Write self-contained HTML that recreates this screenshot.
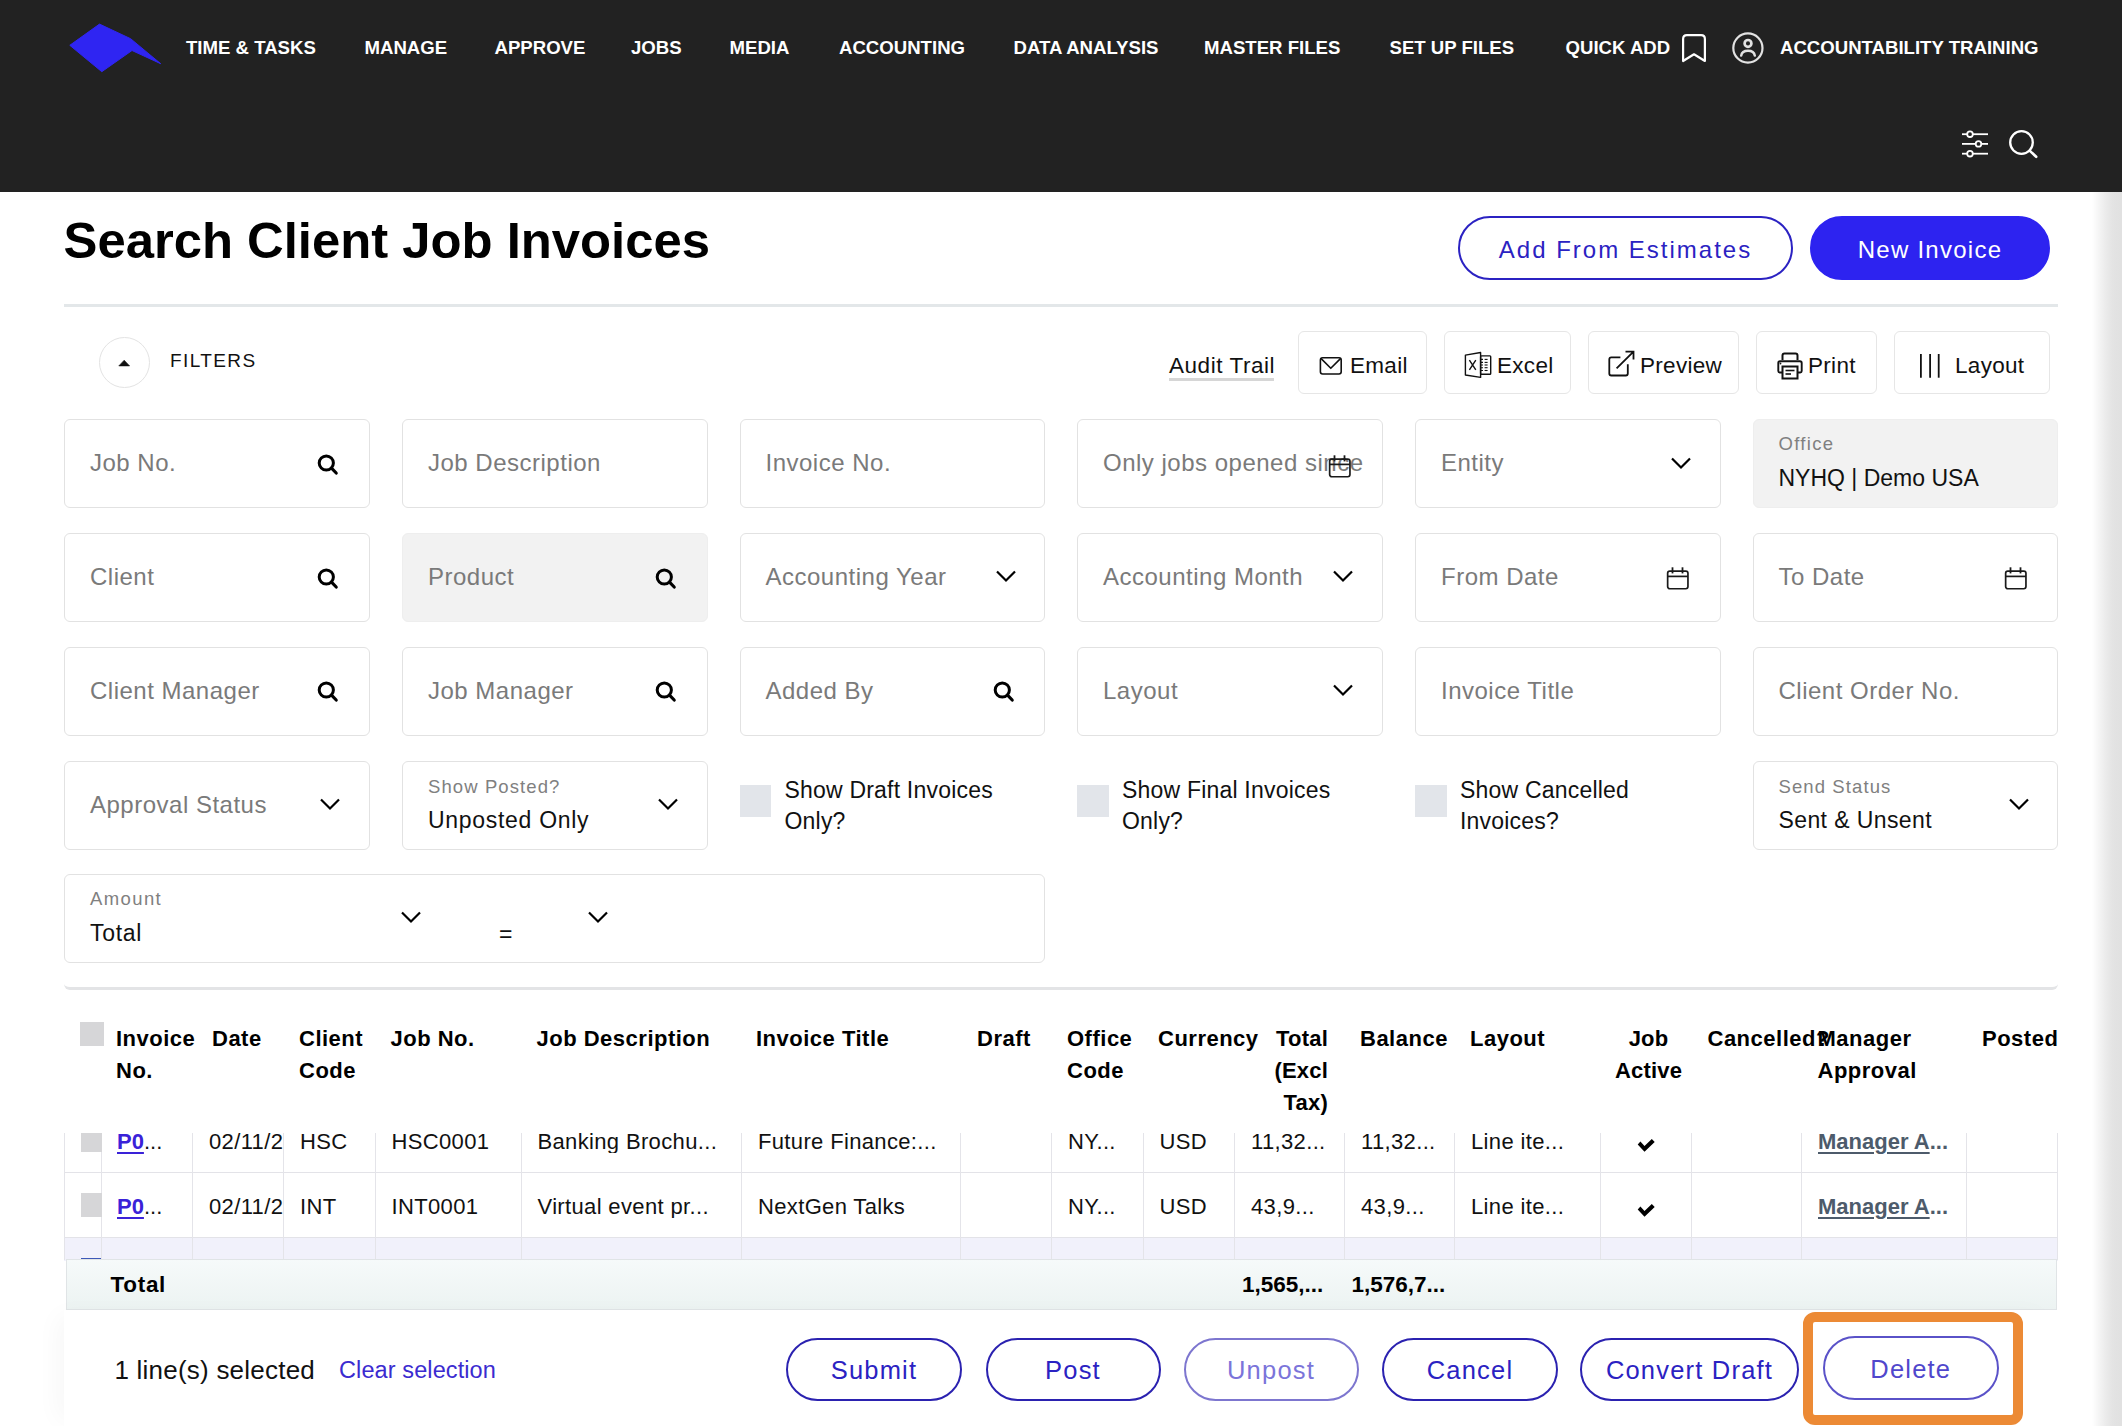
<!DOCTYPE html>
<html><head><meta charset="utf-8"><title>Search Client Job Invoices</title>
<style>
html,body{margin:0;padding:0;}
body{width:2122px;height:1426px;overflow:hidden;position:relative;background:#fff;font-family:"Liberation Sans", sans-serif;}
.a{position:absolute;}
.t{position:absolute;white-space:nowrap;}
.clip{overflow:hidden;}
.btn{position:absolute;box-sizing:border-box;border-radius:40px;padding-top:3px;display:flex;align-items:center;justify-content:center;font-family:"Liberation Sans", sans-serif;white-space:nowrap;}
</style></head><body>
<div class="a" style="left:0px;top:0px;width:2122px;height:192px;background:#222222;"></div>
<svg class="a" style="left:0;top:0" width="200" height="100" viewBox="0 0 200 100"><polygon points="69.8,45.3 99.5,24.1 130.6,38.7 160.7,63.7 132,50.5 101.8,71.7" fill="#2f25f2" stroke="#2f25f2" stroke-width="1" stroke-linejoin="round"/></svg>
<div class="t " style="left:186.0px;top:39.2px;font-size:18.6px;line-height:18.6px;font-weight:700;color:#ffffff;">TIME &amp; TASKS</div>
<div class="t " style="left:364.5px;top:39.2px;font-size:18.6px;line-height:18.6px;font-weight:700;color:#ffffff;">MANAGE</div>
<div class="t " style="left:494.5px;top:39.2px;font-size:18.6px;line-height:18.6px;font-weight:700;color:#ffffff;">APPROVE</div>
<div class="t " style="left:631.0px;top:39.2px;font-size:18.6px;line-height:18.6px;font-weight:700;color:#ffffff;">JOBS</div>
<div class="t " style="left:729.5px;top:39.2px;font-size:18.6px;line-height:18.6px;font-weight:700;color:#ffffff;">MEDIA</div>
<div class="t " style="left:839.0px;top:39.2px;font-size:18.6px;line-height:18.6px;font-weight:700;color:#ffffff;">ACCOUNTING</div>
<div class="t " style="left:1013.5px;top:39.2px;font-size:18.6px;line-height:18.6px;font-weight:700;color:#ffffff;">DATA ANALYSIS</div>
<div class="t " style="left:1204.0px;top:39.2px;font-size:18.6px;line-height:18.6px;font-weight:700;color:#ffffff;">MASTER FILES</div>
<div class="t " style="left:1389.5px;top:39.2px;font-size:18.6px;line-height:18.6px;font-weight:700;color:#ffffff;">SET UP FILES</div>
<div class="t " style="left:1565.5px;top:39.2px;font-size:18.6px;line-height:18.6px;font-weight:700;color:#ffffff;">QUICK ADD</div>
<div class="t " style="left:1780.0px;top:39.2px;font-size:18.6px;line-height:18.6px;font-weight:700;color:#ffffff;">ACCOUNTABILITY TRAINING</div>
<svg class="a" style="left:1678px;top:31px" width="32" height="34" viewBox="0 0 32 34"><path d="M5.1 30 L5.1 8 Q5.1 4.2 8.9 4.2 L23.1 4.2 Q26.9 4.2 26.9 8 L26.9 30 L16 23.3 Z" fill="none" stroke="#fff" stroke-width="2.2" stroke-linejoin="round"/></svg>
<svg class="a" style="left:1730px;top:30px" width="36" height="36" viewBox="0 0 36 36"><circle cx="17.9" cy="18" r="14.6" fill="none" stroke="#e2e2e2" stroke-width="2.2"/><circle cx="18" cy="13.4" r="3.4" fill="none" stroke="#e2e2e2" stroke-width="2.7"/><path d="M11.2 25.6 Q12 20.8 18 20.8 Q24 20.8 24.8 25.6" fill="none" stroke="#e2e2e2" stroke-width="2.5" stroke-linecap="round"/></svg>
<svg class="a" style="left:1958px;top:128px" width="34" height="32" viewBox="0 0 34 32"><g stroke="#fff" stroke-width="1.8" fill="none"><line x1="4" y1="6.2" x2="30" y2="6.2"/><line x1="4" y1="15.9" x2="30" y2="15.9"/><line x1="4" y1="25.7" x2="30" y2="25.7"/><circle cx="12" cy="6.2" r="2.8" fill="#222"/><circle cx="20.5" cy="15.9" r="2.8" fill="#222"/><circle cx="12" cy="25.7" r="2.8" fill="#222"/></g></svg>
<svg class="a" style="left:2004px;top:126px" width="36" height="36" viewBox="0 0 36 36"><circle cx="17.5" cy="16.5" r="11.3" fill="none" stroke="#fff" stroke-width="2.3"/><line x1="25.6" y1="24.6" x2="32.2" y2="30.8" stroke="#fff" stroke-width="2.6" stroke-linecap="round"/></svg>
<div class="a" style="left:2092px;top:192px;width:30px;height:1234px;background:linear-gradient(to right, #ffffff 0px, #f6f6f6 6px, #ececec 13px, #e4e4e4 20px, #e2e2e2 24px, #e1e1e1 30px);"></div>
<div class="t " style="left:63.5px;top:215.5px;font-size:50.8px;line-height:50.8px;font-weight:700;color:#000;">Search Client Job Invoices</div>
<div class="btn" style="left:1458px;top:216px;width:335px;height:64px;border:2px solid #2b22c2;color:#2b22c2;font-size:24px;letter-spacing:2.0px;">Add From Estimates</div>
<div class="btn" style="left:1810px;top:216px;width:240px;height:64px;border:2px solid #2d23f0;background:#2d23f0;color:#fff;font-size:24px;letter-spacing:1.25px;">New Invoice</div>
<div class="a" style="left:64px;top:304px;width:1994px;height:3px;background:#e3e7e9;"></div>
<div class="a" style="left:99px;top:337px;width:51px;height:51px;border:1px solid #e3e3e3;border-radius:50%;box-sizing:border-box;"></div>
<svg class="a" style="left:117px;top:358px" width="14" height="10" viewBox="0 0 14 10"><polygon points="1.8,7.9 7.2,2.2 12.6,7.9" fill="#111" stroke="#111" stroke-width="0.6" stroke-linejoin="round"/></svg>
<div class="t " style="left:170px;top:351.2px;font-size:19px;line-height:19px;color:#111;letter-spacing:1.4px;">FILTERS</div>
<div class="t " style="left:1169px;top:354.9px;font-size:22.5px;line-height:22.5px;color:#111;letter-spacing:0.55px;">Audit Trail</div>
<div class="a" style="left:1169px;top:378px;width:105px;height:3px;background:#d6d6d6;"></div>
<div class="a" style="left:1298px;top:331px;width:129px;height:63px;border:1px solid #e6e6e6;border-radius:6px;box-sizing:border-box;background:#fff;"></div>
<svg class="a" style="left:1316px;top:354px" width="30" height="24" viewBox="0 0 30 24"><rect x="4.4" y="3.8" width="20.8" height="16.2" rx="2.2" fill="none" stroke="#111" stroke-width="1.6"/><path d="M4.9 4.4 L14.8 14.3 L24.7 4.4" fill="none" stroke="#111" stroke-width="1.6" stroke-linejoin="round"/></svg>
<div class="t " style="left:1350px;top:354.9px;font-size:22.5px;line-height:22.5px;color:#111;letter-spacing:0.3px;">Email</div>
<div class="a" style="left:1444px;top:331px;width:127px;height:63px;border:1px solid #e6e6e6;border-radius:6px;box-sizing:border-box;background:#fff;"></div>
<svg class="a" style="left:1455px;top:340px" width="45" height="45" viewBox="0 0 45 45"><polygon points="10.4,15.1 25.6,12.5 25.6,37.4 10.4,35" fill="none" stroke="#111" stroke-width="1.4" stroke-linejoin="round"/><rect x="25.6" y="15.9" width="10.1" height="18.3" rx="0.8" fill="none" stroke="#111" stroke-width="1.4"/><path d="M14.4 20.2 L20.8 29.8 M20.8 20.2 L14.4 29.8" stroke="#111" stroke-width="1.4"/><g stroke="#111" stroke-width="1.1"><line x1="26" y1="19.4" x2="28" y2="19.4"/><line x1="29.6" y1="19.4" x2="32.6" y2="19.4"/><line x1="26" y1="22.4" x2="28" y2="22.4"/><line x1="29.6" y1="22.4" x2="32.6" y2="22.4"/><line x1="26" y1="25" x2="28" y2="25"/><line x1="29.6" y1="25" x2="32.6" y2="25"/><line x1="26" y1="27.7" x2="28" y2="27.7"/><line x1="29.6" y1="27.7" x2="32.6" y2="27.7"/><line x1="26" y1="30.5" x2="28" y2="30.5"/><line x1="29.6" y1="30.5" x2="32.6" y2="30.5"/></g></svg>
<div class="t " style="left:1497px;top:354.9px;font-size:22.5px;line-height:22.5px;color:#111;letter-spacing:0.3px;">Excel</div>
<div class="a" style="left:1588px;top:331px;width:151px;height:63px;border:1px solid #e6e6e6;border-radius:6px;box-sizing:border-box;background:#fff;"></div>
<svg class="a" style="left:1598px;top:340px" width="50" height="45" viewBox="0 0 50 45"><path d="M22.4 17.3 L13.3 17.3 Q11.3 17.3 11.3 19.3 L11.3 33.5 Q11.3 35.5 13.3 35.5 L27.8 35.5 Q29.8 35.5 29.8 33.5 L29.8 24.3" fill="none" stroke="#111" stroke-width="1.8"/><path d="M18.6 28.3 L35 12.1 M27.5 11.7 L35.5 11.7 L35.5 19.6" fill="none" stroke="#111" stroke-width="1.8"/></svg>
<div class="t " style="left:1640px;top:354.9px;font-size:22.5px;line-height:22.5px;color:#111;letter-spacing:0.3px;">Preview</div>
<div class="a" style="left:1756px;top:331px;width:121px;height:63px;border:1px solid #e6e6e6;border-radius:6px;box-sizing:border-box;background:#fff;"></div>
<svg class="a" style="left:1775px;top:351px" width="30" height="30" viewBox="0 0 30 30"><path d="M7.5 9 L7.5 4.5 Q7.5 2.5 9.5 2.5 L20.5 2.5 Q22.5 2.5 22.5 4.5 L22.5 9" fill="none" stroke="#111" stroke-width="2"/><path d="M7 21.5 L4.8 21.5 Q3.3 21.5 3.3 20 L3.3 12 Q3.3 10.2 5.1 10.2 L24.9 10.2 Q26.7 10.2 26.7 12 L26.7 20 Q26.7 21.5 25.2 21.5 L23 21.5" fill="none" stroke="#111" stroke-width="1.9"/><rect x="7.5" y="15.5" width="15" height="12" fill="none" stroke="#111" stroke-width="2"/><line x1="10.5" y1="19.5" x2="19.5" y2="19.5" stroke="#111" stroke-width="1.6"/><line x1="10.5" y1="23" x2="16" y2="23" stroke="#111" stroke-width="1.6"/><circle cx="5.5" cy="12.5" r="0.9" fill="#111"/></svg>
<div class="t " style="left:1808px;top:354.9px;font-size:22.5px;line-height:22.5px;color:#111;letter-spacing:0.3px;">Print</div>
<div class="a" style="left:1894px;top:331px;width:156px;height:63px;border:1px solid #e6e6e6;border-radius:6px;box-sizing:border-box;background:#fff;"></div>
<svg class="a" style="left:1916px;top:352px" width="24" height="28" viewBox="0 0 24 28"><g stroke="#111" stroke-width="1.8"><line x1="4.9" y1="2" x2="4.9" y2="25.7"/><line x1="14.1" y1="2" x2="14.1" y2="25.7"/><line x1="22.7" y1="2" x2="22.7" y2="25.7"/></g></svg>
<div class="t " style="left:1955px;top:354.9px;font-size:22.5px;line-height:22.5px;color:#111;letter-spacing:0.3px;">Layout</div>
<div class="a" style="left:64px;top:419px;width:305.5px;height:89px;border:1px solid #e2e2e2;border-radius:6px;box-sizing:border-box;background:#fff;"></div>
<div class="t " style="left:90px;top:451.2px;font-size:24px;line-height:24px;color:#7a7a7a;letter-spacing:0.5px;">Job No.</div>
<svg class="a" style="left:317px;top:453.5px" width="22" height="22" viewBox="0 0 22 22"><circle cx="9.3" cy="9" r="7.1" fill="none" stroke="#000" stroke-width="3"/><line x1="14.5" y1="14.2" x2="19.2" y2="19" stroke="#000" stroke-width="3.2" stroke-linecap="round"/></svg>
<div class="a" style="left:402px;top:419px;width:305.5px;height:89px;border:1px solid #e2e2e2;border-radius:6px;box-sizing:border-box;background:#fff;"></div>
<div class="t " style="left:428px;top:451.2px;font-size:24px;line-height:24px;color:#7a7a7a;letter-spacing:0.5px;">Job Description</div>
<div class="a" style="left:739.5px;top:419px;width:305.5px;height:89px;border:1px solid #e2e2e2;border-radius:6px;box-sizing:border-box;background:#fff;"></div>
<div class="t " style="left:765.5px;top:451.2px;font-size:24px;line-height:24px;color:#7a7a7a;letter-spacing:0.5px;">Invoice No.</div>
<div class="a" style="left:1077px;top:419px;width:305.5px;height:89px;border:1px solid #e2e2e2;border-radius:6px;box-sizing:border-box;background:#fff;"></div>
<div class="t " style="left:1103px;top:451.2px;font-size:24px;line-height:24px;color:#7a7a7a;letter-spacing:0.5px;">Only jobs opened since</div>
<svg class="a" style="left:1327px;top:454px" width="26" height="26" viewBox="0 0 26 26"><rect x="2.65" y="5.15" width="20.3" height="17.6" rx="2.2" fill="none" stroke="#1a1a1a" stroke-width="1.7"/><line x1="2.65" y1="10.4" x2="22.95" y2="10.4" stroke="#1a1a1a" stroke-width="1.7"/><line x1="7.5" y1="1.3" x2="7.5" y2="7.4" stroke="#1a1a1a" stroke-width="1.8"/><line x1="17.5" y1="1.3" x2="17.5" y2="7.4" stroke="#1a1a1a" stroke-width="1.8"/></svg>
<div class="a" style="left:1415px;top:419px;width:305.5px;height:89px;border:1px solid #e2e2e2;border-radius:6px;box-sizing:border-box;background:#fff;"></div>
<div class="t " style="left:1441px;top:451.2px;font-size:24px;line-height:24px;color:#7a7a7a;letter-spacing:0.5px;">Entity</div>
<svg class="a" style="left:1669px;top:456px" width="24" height="14" viewBox="0 0 24 14"><path d="M3 2.5 L12 11.5 L21 2.5" fill="none" stroke="#000" stroke-width="2.2"/></svg>
<div class="a" style="left:1752.5px;top:419px;width:305.5px;height:89px;border:1px solid #eeeeee;border-radius:6px;box-sizing:border-box;background:#f2f2f2;"></div>
<div class="t " style="left:1778.5px;top:435.3px;font-size:18.5px;line-height:18.5px;color:#808080;letter-spacing:1.3px;">Office</div>
<div class="t " style="left:1778.5px;top:467.0px;font-size:23px;line-height:23px;color:#111;letter-spacing:0px;">NYHQ | Demo USA</div>
<div class="a" style="left:64px;top:533px;width:305.5px;height:89px;border:1px solid #e2e2e2;border-radius:6px;box-sizing:border-box;background:#fff;"></div>
<div class="t " style="left:90px;top:565.2px;font-size:24px;line-height:24px;color:#7a7a7a;letter-spacing:0.5px;">Client</div>
<svg class="a" style="left:317px;top:567.5px" width="22" height="22" viewBox="0 0 22 22"><circle cx="9.3" cy="9" r="7.1" fill="none" stroke="#000" stroke-width="3"/><line x1="14.5" y1="14.2" x2="19.2" y2="19" stroke="#000" stroke-width="3.2" stroke-linecap="round"/></svg>
<div class="a" style="left:402px;top:533px;width:305.5px;height:89px;border:1px solid #eeeeee;border-radius:6px;box-sizing:border-box;background:#f2f2f2;"></div>
<div class="t " style="left:428px;top:565.2px;font-size:24px;line-height:24px;color:#7a7a7a;letter-spacing:0.5px;">Product</div>
<svg class="a" style="left:655px;top:567.5px" width="22" height="22" viewBox="0 0 22 22"><circle cx="9.3" cy="9" r="7.1" fill="none" stroke="#000" stroke-width="3"/><line x1="14.5" y1="14.2" x2="19.2" y2="19" stroke="#000" stroke-width="3.2" stroke-linecap="round"/></svg>
<div class="a" style="left:739.5px;top:533px;width:305.5px;height:89px;border:1px solid #e2e2e2;border-radius:6px;box-sizing:border-box;background:#fff;"></div>
<div class="t " style="left:765.5px;top:565.2px;font-size:24px;line-height:24px;color:#7a7a7a;letter-spacing:0.5px;">Accounting Year</div>
<svg class="a" style="left:993.5px;top:569px" width="24" height="14" viewBox="0 0 24 14"><path d="M3 2.5 L12 11.5 L21 2.5" fill="none" stroke="#000" stroke-width="2.2"/></svg>
<div class="a" style="left:1077px;top:533px;width:305.5px;height:89px;border:1px solid #e2e2e2;border-radius:6px;box-sizing:border-box;background:#fff;"></div>
<div class="t " style="left:1103px;top:565.2px;font-size:24px;line-height:24px;color:#7a7a7a;letter-spacing:0.5px;">Accounting Month</div>
<svg class="a" style="left:1331px;top:569px" width="24" height="14" viewBox="0 0 24 14"><path d="M3 2.5 L12 11.5 L21 2.5" fill="none" stroke="#000" stroke-width="2.2"/></svg>
<div class="a" style="left:1415px;top:533px;width:305.5px;height:89px;border:1px solid #e2e2e2;border-radius:6px;box-sizing:border-box;background:#fff;"></div>
<div class="t " style="left:1441px;top:565.2px;font-size:24px;line-height:24px;color:#7a7a7a;letter-spacing:0.5px;">From Date</div>
<svg class="a" style="left:1665px;top:566px" width="26" height="26" viewBox="0 0 26 26"><rect x="2.65" y="5.15" width="20.3" height="17.6" rx="2.2" fill="none" stroke="#1a1a1a" stroke-width="1.7"/><line x1="2.65" y1="10.4" x2="22.95" y2="10.4" stroke="#1a1a1a" stroke-width="1.7"/><line x1="7.5" y1="1.3" x2="7.5" y2="7.4" stroke="#1a1a1a" stroke-width="1.8"/><line x1="17.5" y1="1.3" x2="17.5" y2="7.4" stroke="#1a1a1a" stroke-width="1.8"/></svg>
<div class="a" style="left:1752.5px;top:533px;width:305.5px;height:89px;border:1px solid #e2e2e2;border-radius:6px;box-sizing:border-box;background:#fff;"></div>
<div class="t " style="left:1778.5px;top:565.2px;font-size:24px;line-height:24px;color:#7a7a7a;letter-spacing:0.5px;">To Date</div>
<svg class="a" style="left:2002.5px;top:566px" width="26" height="26" viewBox="0 0 26 26"><rect x="2.65" y="5.15" width="20.3" height="17.6" rx="2.2" fill="none" stroke="#1a1a1a" stroke-width="1.7"/><line x1="2.65" y1="10.4" x2="22.95" y2="10.4" stroke="#1a1a1a" stroke-width="1.7"/><line x1="7.5" y1="1.3" x2="7.5" y2="7.4" stroke="#1a1a1a" stroke-width="1.8"/><line x1="17.5" y1="1.3" x2="17.5" y2="7.4" stroke="#1a1a1a" stroke-width="1.8"/></svg>
<div class="a" style="left:64px;top:646.5px;width:305.5px;height:89px;border:1px solid #e2e2e2;border-radius:6px;box-sizing:border-box;background:#fff;"></div>
<div class="t " style="left:90px;top:678.7px;font-size:24px;line-height:24px;color:#7a7a7a;letter-spacing:0.5px;">Client Manager</div>
<svg class="a" style="left:317px;top:681.0px" width="22" height="22" viewBox="0 0 22 22"><circle cx="9.3" cy="9" r="7.1" fill="none" stroke="#000" stroke-width="3"/><line x1="14.5" y1="14.2" x2="19.2" y2="19" stroke="#000" stroke-width="3.2" stroke-linecap="round"/></svg>
<div class="a" style="left:402px;top:646.5px;width:305.5px;height:89px;border:1px solid #e2e2e2;border-radius:6px;box-sizing:border-box;background:#fff;"></div>
<div class="t " style="left:428px;top:678.7px;font-size:24px;line-height:24px;color:#7a7a7a;letter-spacing:0.5px;">Job Manager</div>
<svg class="a" style="left:655px;top:681.0px" width="22" height="22" viewBox="0 0 22 22"><circle cx="9.3" cy="9" r="7.1" fill="none" stroke="#000" stroke-width="3"/><line x1="14.5" y1="14.2" x2="19.2" y2="19" stroke="#000" stroke-width="3.2" stroke-linecap="round"/></svg>
<div class="a" style="left:739.5px;top:646.5px;width:305.5px;height:89px;border:1px solid #e2e2e2;border-radius:6px;box-sizing:border-box;background:#fff;"></div>
<div class="t " style="left:765.5px;top:678.7px;font-size:24px;line-height:24px;color:#7a7a7a;letter-spacing:0.5px;">Added By</div>
<svg class="a" style="left:992.5px;top:681.0px" width="22" height="22" viewBox="0 0 22 22"><circle cx="9.3" cy="9" r="7.1" fill="none" stroke="#000" stroke-width="3"/><line x1="14.5" y1="14.2" x2="19.2" y2="19" stroke="#000" stroke-width="3.2" stroke-linecap="round"/></svg>
<div class="a" style="left:1077px;top:646.5px;width:305.5px;height:89px;border:1px solid #e2e2e2;border-radius:6px;box-sizing:border-box;background:#fff;"></div>
<div class="t " style="left:1103px;top:678.7px;font-size:24px;line-height:24px;color:#7a7a7a;letter-spacing:0.5px;">Layout</div>
<svg class="a" style="left:1331px;top:682.5px" width="24" height="14" viewBox="0 0 24 14"><path d="M3 2.5 L12 11.5 L21 2.5" fill="none" stroke="#000" stroke-width="2.2"/></svg>
<div class="a" style="left:1415px;top:646.5px;width:305.5px;height:89px;border:1px solid #e2e2e2;border-radius:6px;box-sizing:border-box;background:#fff;"></div>
<div class="t " style="left:1441px;top:678.7px;font-size:24px;line-height:24px;color:#7a7a7a;letter-spacing:0.5px;">Invoice Title</div>
<div class="a" style="left:1752.5px;top:646.5px;width:305.5px;height:89px;border:1px solid #e2e2e2;border-radius:6px;box-sizing:border-box;background:#fff;"></div>
<div class="t " style="left:1778.5px;top:678.7px;font-size:24px;line-height:24px;color:#7a7a7a;letter-spacing:0.5px;">Client Order No.</div>
<div class="a" style="left:64px;top:760.5px;width:305.5px;height:89px;border:1px solid #e2e2e2;border-radius:6px;box-sizing:border-box;background:#fff;"></div>
<div class="t " style="left:90px;top:792.7px;font-size:24px;line-height:24px;color:#7a7a7a;letter-spacing:0.5px;">Approval Status</div>
<svg class="a" style="left:318px;top:796.5px" width="24" height="14" viewBox="0 0 24 14"><path d="M3 2.5 L12 11.5 L21 2.5" fill="none" stroke="#000" stroke-width="2.2"/></svg>
<div class="a" style="left:402px;top:760.5px;width:305.5px;height:89px;border:1px solid #e2e2e2;border-radius:6px;box-sizing:border-box;background:#fff;"></div>
<div class="t " style="left:428px;top:777.8px;font-size:18.5px;line-height:18.5px;color:#808080;letter-spacing:1.1px;">Show Posted?</div>
<div class="t " style="left:428px;top:808.5px;font-size:23px;line-height:23px;color:#111;letter-spacing:0.7px;">Unposted Only</div>
<svg class="a" style="left:656px;top:796.5px" width="24" height="14" viewBox="0 0 24 14"><path d="M3 2.5 L12 11.5 L21 2.5" fill="none" stroke="#000" stroke-width="2.2"/></svg>
<div class="a" style="left:739.5px;top:785.0px;width:31.5px;height:31.5px;background:#e2e5ea;"></div>
<div class="t " style="left:784.5px;top:778.5px;font-size:23px;line-height:23px;color:#111;letter-spacing:0.2px;">Show Draft Invoices</div>
<div class="t " style="left:784.5px;top:809.5px;font-size:23px;line-height:23px;color:#111;letter-spacing:0.2px;">Only?</div>
<div class="a" style="left:1077px;top:785.0px;width:31.5px;height:31.5px;background:#e2e5ea;"></div>
<div class="t " style="left:1122px;top:778.5px;font-size:23px;line-height:23px;color:#111;letter-spacing:0.2px;">Show Final Invoices</div>
<div class="t " style="left:1122px;top:809.5px;font-size:23px;line-height:23px;color:#111;letter-spacing:0.2px;">Only?</div>
<div class="a" style="left:1415px;top:785.0px;width:31.5px;height:31.5px;background:#e2e5ea;"></div>
<div class="t " style="left:1460px;top:778.5px;font-size:23px;line-height:23px;color:#111;letter-spacing:0.2px;">Show Cancelled</div>
<div class="t " style="left:1460px;top:809.5px;font-size:23px;line-height:23px;color:#111;letter-spacing:0.2px;">Invoices?</div>
<div class="a" style="left:1752.5px;top:760.5px;width:305.5px;height:89px;border:1px solid #e2e2e2;border-radius:6px;box-sizing:border-box;background:#fff;"></div>
<div class="t " style="left:1778.5px;top:777.8px;font-size:18.5px;line-height:18.5px;color:#808080;letter-spacing:1.1px;">Send Status</div>
<div class="t " style="left:1778.5px;top:808.5px;font-size:23px;line-height:23px;color:#111;letter-spacing:0.4px;">Sent &amp; Unsent</div>
<svg class="a" style="left:2006.5px;top:796.5px" width="24" height="14" viewBox="0 0 24 14"><path d="M3 2.5 L12 11.5 L21 2.5" fill="none" stroke="#000" stroke-width="2.2"/></svg>
<div class="a" style="left:64px;top:873.5px;width:981px;height:89px;border:1px solid #e2e2e2;border-radius:6px;box-sizing:border-box;background:#fff;"></div>
<div class="t " style="left:90px;top:889.8px;font-size:18.5px;line-height:18.5px;color:#808080;letter-spacing:1.4px;">Amount</div>
<div class="t " style="left:90px;top:921.5px;font-size:23px;line-height:23px;color:#111;letter-spacing:0.7px;">Total</div>
<svg class="a" style="left:399px;top:909.5px" width="24" height="14" viewBox="0 0 24 14"><path d="M3 2.5 L12 11.5 L21 2.5" fill="none" stroke="#000" stroke-width="2.2"/></svg>
<div class="t " style="left:499px;top:922.5px;font-size:23px;line-height:23px;color:#111;">=</div>
<svg class="a" style="left:586px;top:909.5px" width="24" height="14" viewBox="0 0 24 14"><path d="M3 2.5 L12 11.5 L21 2.5" fill="none" stroke="#000" stroke-width="2.2"/></svg>
<div class="a" style="left:64px;top:970px;width:1994px;height:20px;border-bottom:3px solid #e3e4e6;border-radius:0 0 6px 6px;box-sizing:border-box;"></div>
<div class="a" style="left:64px;top:1237px;width:1994px;height:24px;background:#f1f1fb;"></div>
<div class="a" style="left:64px;top:1172px;width:1994px;height:1px;background:#e3e3e8;"></div>
<div class="a" style="left:64px;top:1237px;width:1994px;height:1px;background:#e3e3e8;"></div>
<div class="a" style="left:64px;top:1100px;width:1px;height:160px;background:#e4e4e9;"></div>
<div class="a" style="left:101px;top:1100px;width:1px;height:160px;background:#e4e4e9;"></div>
<div class="a" style="left:192px;top:1100px;width:1px;height:160px;background:#e4e4e9;"></div>
<div class="a" style="left:283px;top:1100px;width:1px;height:160px;background:#e4e4e9;"></div>
<div class="a" style="left:375px;top:1100px;width:1px;height:160px;background:#e4e4e9;"></div>
<div class="a" style="left:521px;top:1100px;width:1px;height:160px;background:#e4e4e9;"></div>
<div class="a" style="left:741px;top:1100px;width:1px;height:160px;background:#e4e4e9;"></div>
<div class="a" style="left:960px;top:1100px;width:1px;height:160px;background:#e4e4e9;"></div>
<div class="a" style="left:1051px;top:1100px;width:1px;height:160px;background:#e4e4e9;"></div>
<div class="a" style="left:1143px;top:1100px;width:1px;height:160px;background:#e4e4e9;"></div>
<div class="a" style="left:1234px;top:1100px;width:1px;height:160px;background:#e4e4e9;"></div>
<div class="a" style="left:1344px;top:1100px;width:1px;height:160px;background:#e4e4e9;"></div>
<div class="a" style="left:1454px;top:1100px;width:1px;height:160px;background:#e4e4e9;"></div>
<div class="a" style="left:1600px;top:1100px;width:1px;height:160px;background:#e4e4e9;"></div>
<div class="a" style="left:1691px;top:1100px;width:1px;height:160px;background:#e4e4e9;"></div>
<div class="a" style="left:1801px;top:1100px;width:1px;height:160px;background:#e4e4e9;"></div>
<div class="a" style="left:1966px;top:1100px;width:1px;height:160px;background:#e4e4e9;"></div>
<div class="a" style="left:2057px;top:1100px;width:1px;height:160px;background:#e4e4e9;"></div>
<div class="a" style="left:81px;top:1128px;width:20.5px;height:24px;background:#d6d6d8;"></div>
<div class="t " style="left:117px;top:1130.7px;font-size:22px;line-height:22px;color:#111;"><span style="color:#3a22d8;text-decoration:underline;text-decoration-thickness:2px;text-underline-offset:3px;font-weight:700">P0</span>...</div>
<div class="t clip" style="left:193.5px;top:1130.7px;width:90.0px;font-size:22px;line-height:22px;color:#111;"><span style="padding-left:15.5px;letter-spacing:0.35px">02/11/2</span></div>
<div class="t clip" style="left:284.5px;top:1130.7px;width:90.5px;font-size:22px;line-height:22px;color:#111;"><span style="padding-left:15.5px;letter-spacing:0.35px">HSC</span></div>
<div class="t clip" style="left:376px;top:1130.7px;width:145px;font-size:22px;line-height:22px;color:#111;"><span style="padding-left:15.5px;letter-spacing:0.35px">HSC0001</span></div>
<div class="t clip" style="left:522px;top:1130.7px;width:219.5px;font-size:22px;line-height:22px;color:#111;"><span style="padding-left:15.5px;letter-spacing:0.35px">Banking Brochu...</span></div>
<div class="t clip" style="left:742.5px;top:1130.7px;width:218.0px;font-size:22px;line-height:22px;color:#111;"><span style="padding-left:15.5px;letter-spacing:0.35px">Future Finance:...</span></div>
<div class="t clip" style="left:1052.5px;top:1130.7px;width:90.5px;font-size:22px;line-height:22px;color:#111;"><span style="padding-left:15.5px;letter-spacing:0.35px">NY...</span></div>
<div class="t clip" style="left:1144px;top:1130.7px;width:90.5px;font-size:22px;line-height:22px;color:#111;"><span style="padding-left:15.5px;letter-spacing:0.35px">USD</span></div>
<div class="t clip" style="left:1235.5px;top:1130.7px;width:109.0px;font-size:22px;line-height:22px;color:#111;"><span style="padding-left:15.5px;letter-spacing:0.35px">11,32...</span></div>
<div class="t clip" style="left:1345.5px;top:1130.7px;width:109.0px;font-size:22px;line-height:22px;color:#111;"><span style="padding-left:15.5px;letter-spacing:0.35px">11,32...</span></div>
<div class="t clip" style="left:1455.5px;top:1130.7px;width:145.0px;font-size:22px;line-height:22px;color:#111;"><span style="padding-left:15.5px;letter-spacing:0.35px">Line ite...</span></div>
<svg class="a" style="left:1636px;top:1138px" width="22" height="18" viewBox="0 0 22 18"><polygon points="4.4,3.4 8.5,8 15.8,1 18.7,3.9 8.5,13.8 1.7,6.4" fill="#000"/></svg>
<div class="t " style="left:1818.0px;top:1130.7px;font-size:22px;line-height:22px;font-weight:700;color:#4d5b6b;"><span style="text-decoration:underline;text-decoration-thickness:2px;text-underline-offset:3px;">Manager A</span>...</div>
<div class="a" style="left:81px;top:1193px;width:20.5px;height:24px;background:#d6d6d8;"></div>
<div class="t " style="left:117px;top:1195.7px;font-size:22px;line-height:22px;color:#111;"><span style="color:#3a22d8;text-decoration:underline;text-decoration-thickness:2px;text-underline-offset:3px;font-weight:700">P0</span>...</div>
<div class="t clip" style="left:193.5px;top:1195.7px;width:90.0px;font-size:22px;line-height:22px;color:#111;"><span style="padding-left:15.5px;letter-spacing:0.35px">02/11/2</span></div>
<div class="t clip" style="left:284.5px;top:1195.7px;width:90.5px;font-size:22px;line-height:22px;color:#111;"><span style="padding-left:15.5px;letter-spacing:0.35px">INT</span></div>
<div class="t clip" style="left:376px;top:1195.7px;width:145px;font-size:22px;line-height:22px;color:#111;"><span style="padding-left:15.5px;letter-spacing:0.35px">INT0001</span></div>
<div class="t clip" style="left:522px;top:1195.7px;width:219.5px;font-size:22px;line-height:22px;color:#111;"><span style="padding-left:15.5px;letter-spacing:0.35px">Virtual event pr...</span></div>
<div class="t clip" style="left:742.5px;top:1195.7px;width:218.0px;font-size:22px;line-height:22px;color:#111;"><span style="padding-left:15.5px;letter-spacing:0.35px">NextGen Talks</span></div>
<div class="t clip" style="left:1052.5px;top:1195.7px;width:90.5px;font-size:22px;line-height:22px;color:#111;"><span style="padding-left:15.5px;letter-spacing:0.35px">NY...</span></div>
<div class="t clip" style="left:1144px;top:1195.7px;width:90.5px;font-size:22px;line-height:22px;color:#111;"><span style="padding-left:15.5px;letter-spacing:0.35px">USD</span></div>
<div class="t clip" style="left:1235.5px;top:1195.7px;width:109.0px;font-size:22px;line-height:22px;color:#111;"><span style="padding-left:15.5px;letter-spacing:0.35px">43,9...</span></div>
<div class="t clip" style="left:1345.5px;top:1195.7px;width:109.0px;font-size:22px;line-height:22px;color:#111;"><span style="padding-left:15.5px;letter-spacing:0.35px">43,9...</span></div>
<div class="t clip" style="left:1455.5px;top:1195.7px;width:145.0px;font-size:22px;line-height:22px;color:#111;"><span style="padding-left:15.5px;letter-spacing:0.35px">Line ite...</span></div>
<svg class="a" style="left:1636px;top:1203px" width="22" height="18" viewBox="0 0 22 18"><polygon points="4.4,3.4 8.5,8 15.8,1 18.7,3.9 8.5,13.8 1.7,6.4" fill="#000"/></svg>
<div class="t " style="left:1818.0px;top:1195.7px;font-size:22px;line-height:22px;font-weight:700;color:#4d5b6b;"><span style="text-decoration:underline;text-decoration-thickness:2px;text-underline-offset:3px;">Manager A</span>...</div>
<div class="a" style="left:81px;top:1257.5px;width:20px;height:1.5px;background:#3d58b8;"></div>
<div class="a" style="left:64px;top:991px;width:1994px;height:142px;background:#fff;"></div>
<div class="a" style="left:80px;top:1022px;width:24px;height:24px;background:#d6d6d8;"></div>
<div class="t " style="left:116px;top:1028.0px;font-size:22px;line-height:22px;font-weight:700;color:#000;letter-spacing:0.5px;">Invoice</div>
<div class="t " style="left:116px;top:1060.0px;font-size:22px;line-height:22px;font-weight:700;color:#000;letter-spacing:0.5px;">No.</div>
<div class="t " style="left:212px;top:1028.0px;font-size:22px;line-height:22px;font-weight:700;color:#000;letter-spacing:0.5px;">Date</div>
<div class="t " style="left:299px;top:1028.0px;font-size:22px;line-height:22px;font-weight:700;color:#000;letter-spacing:0.5px;">Client</div>
<div class="t " style="left:299px;top:1060.0px;font-size:22px;line-height:22px;font-weight:700;color:#000;letter-spacing:0.5px;">Code</div>
<div class="t " style="left:390.5px;top:1028.0px;font-size:22px;line-height:22px;font-weight:700;color:#000;letter-spacing:0.5px;">Job No.</div>
<div class="t " style="left:536.5px;top:1028.0px;font-size:22px;line-height:22px;font-weight:700;color:#000;letter-spacing:0.5px;">Job Description</div>
<div class="t " style="left:756px;top:1028.0px;font-size:22px;line-height:22px;font-weight:700;color:#000;letter-spacing:0.5px;">Invoice Title</div>
<div class="t " style="left:977px;top:1028.0px;font-size:22px;line-height:22px;font-weight:700;color:#000;letter-spacing:0.5px;">Draft</div>
<div class="t " style="left:1067px;top:1028.0px;font-size:22px;line-height:22px;font-weight:700;color:#000;letter-spacing:0.5px;">Office</div>
<div class="t " style="left:1067px;top:1060.0px;font-size:22px;line-height:22px;font-weight:700;color:#000;letter-spacing:0.5px;">Code</div>
<div class="t " style="left:1158px;top:1028.0px;font-size:22px;line-height:22px;font-weight:700;color:#000;letter-spacing:0.5px;">Currency</div>
<div class="t" style="left:1228px;width:100px;text-align:right;top:1028.0px;font-size:22px;line-height:22px;font-weight:700;color:#000;letter-spacing:0.2px">Total</div>
<div class="t" style="left:1228px;width:100px;text-align:right;top:1060.0px;font-size:22px;line-height:22px;font-weight:700;color:#000;letter-spacing:0.2px">(Excl</div>
<div class="t" style="left:1228px;width:100px;text-align:right;top:1092.0px;font-size:22px;line-height:22px;font-weight:700;color:#000;letter-spacing:0.2px">Tax)</div>
<div class="t " style="left:1360px;top:1028.0px;font-size:22px;line-height:22px;font-weight:700;color:#000;letter-spacing:0.5px;">Balance</div>
<div class="t " style="left:1470px;top:1028.0px;font-size:22px;line-height:22px;font-weight:700;color:#000;letter-spacing:0.5px;">Layout</div>
<div class="t" style="left:1603px;width:91px;text-align:center;top:1028.0px;font-size:22px;line-height:22px;font-weight:700;color:#000;letter-spacing:0.2px">Job</div>
<div class="t" style="left:1603px;width:91px;text-align:center;top:1060.0px;font-size:22px;line-height:22px;font-weight:700;color:#000;letter-spacing:0.2px">Active</div>
<div class="t " style="left:1707.5px;top:1028.0px;font-size:22px;line-height:22px;font-weight:700;color:#000;letter-spacing:0.5px;">Cancelled?</div>
<div class="t " style="left:1817.5px;top:1028.0px;font-size:22px;line-height:22px;font-weight:700;color:#000;letter-spacing:0.5px;">Manager</div>
<div class="t " style="left:1817.5px;top:1060.0px;font-size:22px;line-height:22px;font-weight:700;color:#000;letter-spacing:0.5px;">Approval</div>
<div class="t " style="left:1982px;top:1028.0px;font-size:22px;line-height:22px;font-weight:700;color:#000;letter-spacing:0.5px;">Posted</div>
<div class="a" style="left:66px;top:1259px;width:1991px;height:51px;background:linear-gradient(to bottom,#f6fafa,#ecf3f2);border:1px solid #e0e4e6;box-sizing:border-box;"></div>
<div class="t " style="left:110.5px;top:1274.1px;font-size:22.5px;line-height:22.5px;font-weight:700;color:#000;letter-spacing:0.7px;">Total</div>
<div class="t " style="left:1242px;top:1273.6px;font-size:22.5px;line-height:22.5px;font-weight:700;color:#000;">1,565,...</div>
<div class="t " style="left:1351.5px;top:1273.6px;font-size:22.5px;line-height:22.5px;font-weight:700;color:#000;">1,576,7...</div>
<div class="a" style="left:64px;top:1310px;width:1994px;height:116px;background:#fff;box-shadow:-12px 0 24px -6px rgba(0,0,0,0.035);"></div>
<div class="t " style="left:114.5px;top:1356.8px;font-size:26px;line-height:26px;color:#111;letter-spacing:0.22px;">1 line(s) selected</div>
<div class="t " style="left:339px;top:1358.6px;font-size:23.5px;line-height:23.5px;color:#3b2bd0;letter-spacing:0.1px;">Clear selection</div>
<div class="btn" style="left:786px;top:1337.5px;width:176px;height:63px;border:2px solid #2b22b0;color:#2b22c2;font-size:25.5px;letter-spacing:1.2px;">Submit</div>
<div class="btn" style="left:985.5px;top:1337.5px;width:175px;height:63px;border:2px solid #2b22b0;color:#2b22c2;font-size:25.5px;letter-spacing:1.2px;">Post</div>
<div class="btn" style="left:1183.5px;top:1337.5px;width:175px;height:63px;border:2px solid #7d76cf;color:#7b74da;font-size:25.5px;letter-spacing:1.2px;">Unpost</div>
<div class="btn" style="left:1382px;top:1337.5px;width:176px;height:63px;border:2px solid #2b22b0;color:#2b22c2;font-size:25.5px;letter-spacing:1.2px;">Cancel</div>
<div class="btn" style="left:1580px;top:1337.5px;width:219px;height:63px;border:2px solid #2b22b0;color:#2b22c2;font-size:25.5px;letter-spacing:1.2px;">Convert Draft</div>
<div class="btn" style="left:1823px;top:1336px;width:175.5px;height:63.5px;border:2px solid #5a52c8;color:#5047cc;font-size:25.5px;letter-spacing:1.2px;">Delete</div>
<div class="a" style="left:1802.5px;top:1311.5px;width:220px;height:113px;border:10px solid #ec8a35;border-radius:12px;box-sizing:border-box;"></div>
</body></html>
